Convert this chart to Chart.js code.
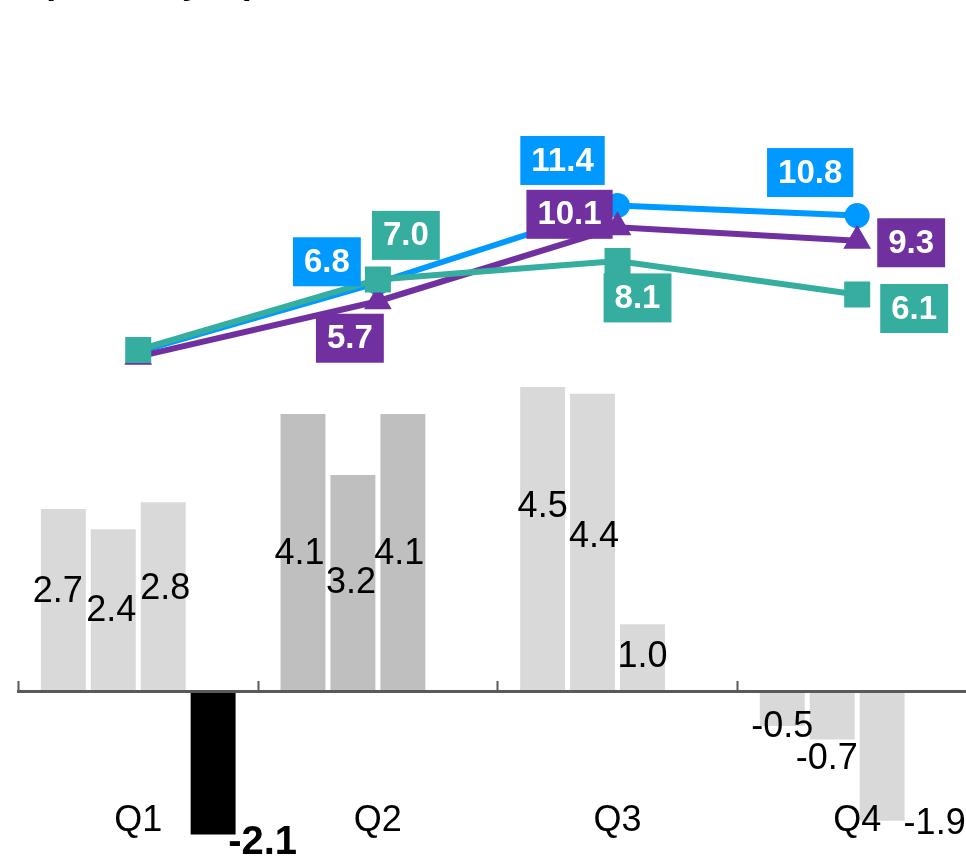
<!DOCTYPE html>
<html lang="en">
<head>
<meta charset="utf-8">
<title>Quarterly values</title>
<script src="https://cdn.jsdelivr.net/npm/chart.js@4.4.1/dist/chart.umd.min.js"></script>
<style>
  html, body { margin: 0; padding: 0; background: #fff; overflow: hidden; }
  #wrap { position: absolute; left: 0; top: 0; width: 1000px; height: 900px; }
  #unit { position: absolute; left: 42px; top: -37px; font: bold 36px "Liberation Sans", Arial, sans-serif;
          line-height: 36px; color: #000; white-space: nowrap; }
</style>
</head>
<body>
<div id="wrap"><canvas id="chartCanvas"></canvas></div>
<div id="unit">(Trillion yen)</div>
<script>
// quarterly bars
const quarters = ['Q1', 'Q2', 'Q3', 'Q4'];
const barA = [2.7, 4.1, 4.5, -0.5];
const barB = [2.4, 3.2, 4.4, -0.7];
const barC = [2.8, 4.1, 1.0, -1.9];
const barD = [-2.1, null, null, null];

// cumulative lines
const lineBlue = [2.7, 6.8, 11.4, 10.8];
const linePurple = [2.4, 5.7, 10.1, 9.3];
const lineTeal = [2.8, 7.0, 8.1, 6.1];

const BLUE = '#0099ff', PURPLE = '#7030a0', TEAL = '#35ad9f';
const LIGHT = '#d9d9d9', MID = '#bfbfbf';
const FONT = '"Liberation Sans", Arial, sans-serif';

// label nudges (dx, dy) from the bar middle / the line point
const barNudges = [
  [[-5.5, -8.5], [-3.5, 1], [0, -32.5], [0, 18.5]],
  [[-2, 0], [-2, 0], [1.5, -6], [-5.5, 43]],
  [[2, -8], [-3.5, 1], [0, -1.5], [52.5, 67.6]],
  [[49.5, 80], null, null, null]
];
const lineNudges = {
  blue:   [null, [-51, -21], [-55, -45], [-47, -43]],
  purple: [null, [-28, 37], [-48, -13], [54, 2]],
  teal:   [null, [28, -44], [20, 37], [57, 14]]
};

function barDataset(values, colors) {
  return {
    type: 'bar', data: values, yAxisID: 'y', backgroundColor: colors,
    borderWidth: 0, categoryPercentage: 200 / 240, barPercentage: 0.9, order: 10
  };
}
function lineDataset(key, values, color, style, radius, order) {
  return {
    type: 'line', key: key, data: values, yAxisID: 'y2', borderColor: color,
    backgroundColor: color, pointBackgroundColor: color, borderWidth: 6,
    pointStyle: style, pointRadius: radius, pointBorderWidth: 0, tension: 0, order: order
  };
}

const valueLabels = {
  id: 'valueLabels',
  afterDatasetsDraw(chart) {
    const ctx = chart.ctx;
    ctx.save();
    ctx.textAlign = 'center';
    ctx.textBaseline = 'middle';
    // bar labels
    for (let i = 0; i < 4; i++) {
      const ds = chart.data.datasets[i];
      chart.getDatasetMeta(i).data.forEach((bar, j) => {
        const v = ds.data[j], off = barNudges[i][j];
        if (v == null || !off) return;
        ctx.font = (i === 3 ? 'bold 40px ' : '36px ') + FONT;
        ctx.fillStyle = '#000';
        ctx.fillText(v.toFixed(1), bar.x + off[0], (bar.y + bar.base) / 2 + off[1]);
      });
    }
    // line labels in filled boxes
    ctx.font = 'bold 33px ' + FONT;
    chart.data.datasets.forEach((ds, i) => {
      if (ds.type !== 'line') return;
      chart.getDatasetMeta(i).data.forEach((pt, j) => {
        const off = lineNudges[ds.key][j];
        if (!off) return;
        const txt = ds.data[j].toFixed(1);
        const w = ctx.measureText(txt).width + 22, h = 49;
        const cx = pt.x + off[0], cy = pt.y + off[1];
        ctx.fillStyle = ds.borderColor;
        ctx.fillRect(cx - w / 2, cy - h / 2, w, h);
        ctx.fillStyle = '#fff';
        ctx.fillText(txt, cx, cy + 1);
      });
    });
    ctx.restore();
  }
};

new Chart(document.getElementById('chartCanvas'), {
  data: {
    labels: quarters,
    datasets: [
      barDataset(barA, [LIGHT, MID, LIGHT, LIGHT]),
      barDataset(barB, [LIGHT, MID, LIGHT, LIGHT]),
      barDataset(barC, [LIGHT, MID, LIGHT, LIGHT]),
      barDataset(barD, ['#000']),
      lineDataset('blue', lineBlue, BLUE, 'circle', 12.5, 3),
      lineDataset('purple', linePurple, PURPLE, 'triangle', 16, 2),
      lineDataset('teal', lineTeal, TEAL, 'rect', 18.4, 1)
    ]
  },
  options: {
    responsive: true,
    maintainAspectRatio: false,
    animation: false,
    layout: { padding: { left: 17, right: 23, top: 20, bottom: 20 } },
    plugins: { legend: { display: false }, tooltip: { enabled: false }, title: { display: false } },
    scales: {
      x: {
        position: { y: 0 },
        offset: true,
        border: { display: true, color: '#595959', width: 3, z: 1 },
        grid: { offset: true, drawOnChartArea: false, drawTicks: true, tickLength: -12,
                tickWidth: 2, tickColor: '#595959' },
        ticks: { z: 1, color: '#000', padding: 81, font: { family: FONT, size: 36, lineHeight: '120px' } }
      },
      y: { display: false, min: -2.7729, max: 9.9115 },
      y2: { display: false, min: -28.75, max: 22.44 }
    }
  },
  plugins: [valueLabels]
});
</script>
</body>
</html>
